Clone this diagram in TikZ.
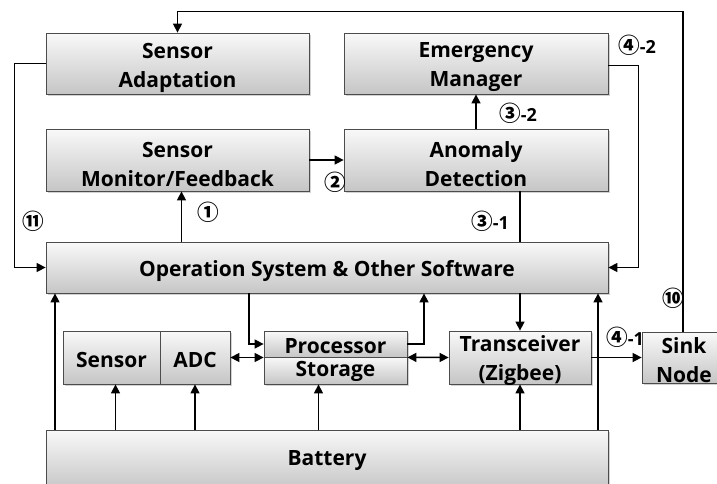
\documentclass[tikz,border=0pt]{standalone}
\usepackage{fontspec}
\setmainfont{Open Sans}
\newfontfamily\circfont[Scale=1.2]{Noto Sans CJK KR}
\usetikzlibrary{arrows.meta,shadows,calc}
\begin{document}
\begin{tikzpicture}[x=1pt,y=-1pt,
  box/.style={draw=gray!60!black, line width=0.8pt, top color=gray!5, bottom color=gray!45,
    drop shadow={shadow xshift=1.5pt, shadow yshift=-1.5pt, opacity=0.35}, inner sep=0pt},
  boxtext/.style={inner sep=0pt, align=center, font=\fontsize{21}{29}\selectfont\bfseries},
  conn/.style={line width=1.5pt, draw=black},
  arr/.style={conn, -{Triangle[length=9pt,width=9pt]}},
  darr/.style={conn, {Triangle[length=9pt,width=9pt]}-{Triangle[length=9pt,width=9pt]}},
  lab/.style={font=\fontsize{18}{18}\selectfont\bfseries, inner sep=0pt}]
\useasboundingbox (0,0) rectangle (717,483);
\fill[white] (0,0) rectangle (717,483);
% boxes
\node[box, minimum width=263pt, minimum height=61pt] (sa) at (177.5,63.5) {};
\node[box, minimum width=263pt, minimum height=62pt] (smf) at (177.5,160) {};
\node[box, minimum width=264pt, minimum height=61pt] (em) at (476,63.5) {};
\node[box, minimum width=264pt, minimum height=62pt] (ad) at (476,160) {};
\node[box, minimum width=562pt, minimum height=51pt] (os) at (327,267.5) {};
\node[box, minimum width=97pt, minimum height=53pt] (sen) at (111.5,357.5) {};
\node[box, minimum width=70pt, minimum height=53pt] (adc) at (195,357.5) {};
\node[box, minimum width=143pt, minimum height=26pt] (proc) at (335.5,344) {};
\node[box, minimum width=143pt, minimum height=27pt] (stor) at (335.5,370.5) {};
\node[box, minimum width=142pt, minimum height=53pt] (trx) at (520,357.5) {};
\node[box, minimum width=78pt, minimum height=51pt] (sink) at (681,357.5) {};
\node[box, minimum width=562pt, minimum height=60pt] (bat) at (327,460) {};
% box texts
\node[boxtext] (sa-t) at ([yshift=-4pt]sa.center) {Sensor\\Adaptation};
\node[boxtext] (smf-t) at ([yshift=-4pt]smf.center) {Sensor\\Monitor/Feedback};
\node[boxtext] (em-t) at ([yshift=-4pt]em.center) {Emergency\\Manager};
\node[boxtext] (ad-t) at ([yshift=-4pt]ad.center) {Anomaly\\Detection};
\node[boxtext] (os-t) at ([yshift=-3pt]os.center) {Operation System \& Other Software};
\node[boxtext] (sen-t) at ([yshift=-2pt]sen.center) {Sensor};
\node[boxtext] (adc-t) at ([yshift=-2pt]adc.center) {ADC};
\node[boxtext] (proc-t) at ([yshift=-2pt]proc.center) {Processor};
\node[boxtext] (stor-t) at ([yshift=-1pt]stor.center) {Storage};
\node[boxtext] (trx-t) at ([yshift=-3pt]trx.center) {Transceiver\\(Zigbee)};
\node[boxtext] (sink-t) at ([yshift=-3pt,xshift=3pt]sink.center) {Sink\\Node};
\node[boxtext] (bat-t) at ([yshift=-1pt]bat.center) {Battery};
% connectors
\draw[arr] ([xshift=2pt]sink.north) |- ([yshift=21pt]sa.north) -- (sa.north);
\draw[arr] (sa.west) -- ++(-31,0) |- (os.west);
\draw[arr] ([xshift=4pt]smf.south |- os.north) -- ([xshift=4pt]smf.south);
\draw[arr] (smf.east) -- (ad.west);
\draw[arr] (ad.north) -- (em.south);
\draw[conn] ([xshift=44pt]ad.south) -- ([xshift=44pt]ad.south |- os.north);
\draw[arr] ([yshift=-2pt]em.east) -- ++(30,0) |- (os.east);
\draw[arr] ([xshift=-78pt]os.south) |- (proc.west);
\draw[darr] (adc.east) -- (adc.east -| stor.north west);
\draw[arr] (proc.east) -| ([xshift=97pt]os.south);
\draw[darr] (proc.south east) -- (trx.west);
\draw[arr] (os.south -| trx.north) -- (trx.north);
\draw[arr] ([xshift=271pt]bat.north) -- ([xshift=271pt]os.south);
\draw[arr] ([xshift=-272pt]bat.north) -- ([xshift=-272pt]os.south);
\draw[arr] (bat.north -| sen.south) ++(4,0) coordinate (b1) -- (b1 |- sen.south);
\draw[arr] (bat.north -| adc.south) -- (adc.south);
\draw[arr] ([xshift=-17pt]stor.south |- bat.north) -- ([xshift=-17pt]stor.south);
\draw[arr] (bat.north -| trx.south) -- (trx.south);
\draw[arr] (trx.east) -- (sink.west);
% labels
\node[lab] (l11) at (33,221) {\circfont ⑪};
\node[lab] (l1) at (208,212) {\circfont ①};
\node[lab] (l2) at (335,182) {\circfont ②};
\node[lab] (l32) at (518,113) {{\circfont ③}-2};
\node[lab] (l31) at (490,221) {{\circfont ③}-1};
\node[lab] (l42) at (637,45) {{\circfont ④}-2};
\node[lab] (l41) at (625,337) {{\circfont ④}-1};
\node[lab] (l10) at (673,298) {\circfont ⑩};
\end{tikzpicture}
\end{document}
